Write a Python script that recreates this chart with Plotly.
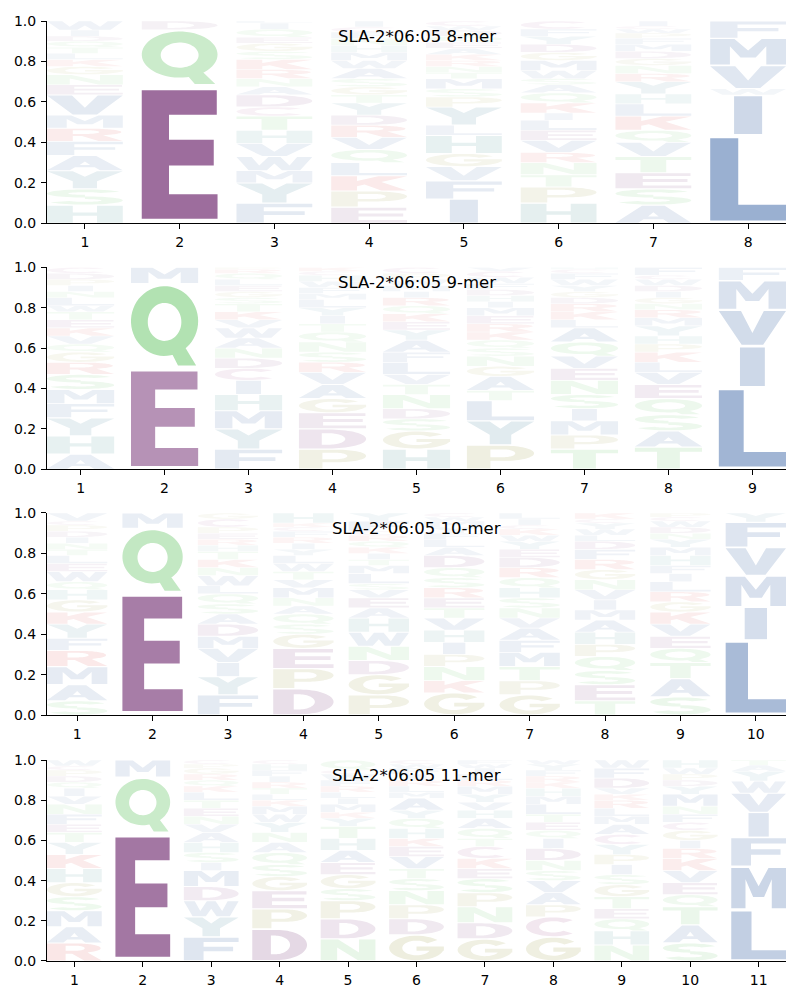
import numpy as np
import plotly.graph_objects as go

# ---------------- data (letters bottom -> top, probabilities) ----------------
titles = ["SLA-2*06:05 8-mer", "SLA-2*06:05 9-mer", "SLA-2*06:05 10-mer", "SLA-2*06:05 11-mer"]

mer8_letters = ["HSYAFRMVENGKLTQDIW", "EQD", "FYMWVHTCDANRKSGEQIL", "EPKLQVRDYTGSAWMHNFCI",
                "IFVGHLYPSMTNRKAEQDWC", "HPTNRVELIKQASWMGDYFC", "ASETVQKLHYRNGDMFPWCI", "LIWVMF"]
mer8_heights = [
    [.09, .08, .09, .075, .07, .065, .065, .10, .05, .05, .04, .035, .03, .03, .03, .025, .03, .045],
    [.68, .277, .043],
    [.10, .10, .06, .07, .065, .065, .07, .045, .06, .04, .04, .045, .05, .04, .04, .03, .04, .03, .01],
    [.08, .08, .075, .065, .065, .06, .06, .05, .06, .04, .04, .04, .05, .04, .04, .035, .035, .03, .025, .03],
    [.12, .09, .07, .065, .09, .05, .09, .05, .04, .05, .03, .03, .03, .03, .03, .03, .03, .03, .02, .025],
    [.10, .08, .06, .06, .05, .06, .05, .05, .035, .05, .05, .04, .03, .04, .05, .04, .04, .04, .035, .04],
    [.09, .08, .08, .08, .07, .06, .07, .06, .05, .06, .04, .04, .035, .035, .035, .03, .025, .02, .015, .025],
    [.435, .20, .03, .115, .135, .085],
]

mer9_letters = ["AHYFMSRGQVKETWLNIPDC", "EQM", "FYMHICDNAWVKTSGELQRP", "PDEGAVRSNQTIYLMFWHCK",
                "HGSDNTVLFAYEKQRIMWPC", "PYLTAGNSQKREMIHDFWCV", "TPMISNEVQALKRDGYWFCH",
                "TASQEVLKPHYMRNGIDWCF", "LIVMF"]
mer9_heights = [
    [.075, .09, .09, .07, .07, .075, .06, .05, .04, .04, .04, .04, .04, .03, .04, .03, .03, .03, .03, .03],
    [.50, .42, .08],
    [.10, .10, .09, .08, .07, .06, .05, .05, .05, .05, .04, .04, .04, .03, .03, .03, .03, .03, .02, .01],
    [.10, .10, .08, .07, .07, .06, .05, .05, .05, .05, .04, .04, .04, .04, .03, .03, .03, .03, .02, .02],
    [.10, .09, .06, .05, .07, .05, .05, .06, .05, .06, .05, .04, .04, .04, .04, .03, .03, .03, .03, .03],
    [.12, .12, .10, .05, .07, .05, .05, .04, .04, .04, .04, .04, .04, .03, .03, .03, .03, .03, .03, .02],
    [.10, .07, .07, .06, .07, .07, .06, .06, .07, .07, .04, .04, .04, .03, .03, .03, .03, .03, .02, .01],
    [.11, .08, .08, .08, .07, .06, .05, .05, .04, .04, .05, .04, .04, .03, .03, .03, .03, .03, .02, .04],
    [.405, .205, .18, .145, .065],
]

mer10_letters = ["SAMRFYKGHQWELTNIDPCV", "EQM", "FYIVMDASQLWNKTHREPCG", "DPEGSQANMVTWLYIRFCKH",
                 "PGDNWHAEVSLMTIKQRCFY", "GKNPIHVTERSQDALFYMWC", "GPTMFAVNSHQRDEYWKCIL",
                 "TESQPHAMIVNGRFDLWYCK", "SATQEVKGRLIFHMYNDWCP", "LIMVFY"]
mer10_heights = [
    [.07, .08, .09, .08, .06, .07, .06, .06, .05, .04, .05, .04, .04, .03, .03, .03, .03, .03, .02, .04],
    [.605, .32, .075],
    [.10, .09, .07, .07, .06, .06, .05, .05, .05, .04, .05, .04, .04, .04, .03, .03, .03, .03, .04, .03],
    [.13, .10, .10, .07, .05, .05, .04, .04, .05, .04, .04, .04, .04, .03, .03, .03, .03, .02, .02, .05],
    [.10, .10, .07, .07, .07, .07, .05, .05, .04, .03, .05, .04, .03, .03, .03, .03, .03, .02, .05, .04],
    [.11, .06, .07, .06, .06, .06, .06, .05, .05, .05, .05, .05, .06, .04, .04, .03, .03, .03, .02, .02],
    [.10, .07, .07, .07, .06, .06, .05, .05, .05, .05, .05, .05, .05, .04, .04, .03, .03, .02, .03, .03],
    [.07, .08, .07, .07, .06, .06, .06, .05, .05, .05, .05, .05, .05, .05, .04, .03, .03, .03, .02, .03],
    [.09, .09, .08, .07, .06, .06, .06, .05, .05, .05, .04, .04, .05, .04, .04, .03, .03, .03, .02, .02],
    [.37, .165, .155, .14, .125, .045],
]

mer11_letters = ["RAMSGHKYTEFNVIQDPCW", "EQM", "FYWDMISHAVNETLKQRGPC", "DPEGSQANYWMKLTRIFHC",
                 "NDPSGEAHTYKMILRFWCQ", "GDPNSTVEKHQYAMLRIFWC", "GDNPSEKCTQAHVYMRLIWF",
                 "GCPAVSNDIQETLMHKRFYW", "NHQETGSIPYCAMLRKVDFW", "SATQEVKRIGCFNMYDPWH", "LMFIVWYAT"]
mer11_heights = [
    [.09, .08, .08, .07, .07, .07, .07, .06, .05, .04, .05, .05, .04, .04, .03, .03, .03, .02, .03],
    [.635, .28, .085],
    [.12, .10, .08, .07, .08, .04, .05, .05, .05, .04, .04, .04, .04, .04, .03, .03, .03, .03, .02, .02],
    [.16, .10, .09, .07, .06, .06, .05, .05, .05, .04, .04, .03, .03, .03, .03, .03, .03, .03, .02],
    [.11, .10, .09, .06, .07, .06, .06, .06, .06, .04, .03, .04, .03, .03, .03, .03, .03, .02, .05],
    [.13, .08, .07, .07, .06, .05, .06, .05, .04, .05, .05, .04, .06, .03, .03, .03, .03, .03, .02, .02],
    [.11, .08, .08, .07, .07, .05, .05, .06, .04, .05, .05, .04, .04, .04, .04, .03, .03, .03, .02, .02],
    [.12, .10, .06, .06, .06, .05, .05, .06, .05, .04, .04, .04, .05, .04, .04, .03, .03, .03, .03, .02],
    [.08, .07, .06, .05, .06, .06, .05, .05, .05, .05, .05, .05, .04, .04, .04, .03, .03, .05, .05, .04],
    [.09, .09, .09, .06, .06, .06, .06, .05, .04, .05, .04, .04, .04, .06, .04, .03, .03, .03, .04],
    [.255, .215, .145, .125, .095, .06, .05, .03, .025],
]

panels = [
    (titles[0], mer8_letters, mer8_heights),
    (titles[1], mer9_letters, mer9_heights),
    (titles[2], mer10_letters, mer10_heights),
    (titles[3], mer11_letters, mer11_heights),
]

# ---------------- colours ----------------
BASE = {}
for ch in "DE":
    BASE[ch] = (137, 80, 137)
for ch in "NQST":
    BASE[ch] = (108, 199, 108)
for ch in "AFILMVW":
    BASE[ch] = (70, 110, 170)
BASE["H"] = (80, 150, 150)
BASE["Y"] = (80, 140, 160)
for ch in "KR":
    BASE[ch] = (220, 80, 80)
for ch in "GP":
    BASE[ch] = (160, 160, 80)
BASE["C"] = (170, 90, 150)


def fill_color(ch, h):
    a = min(1.0, max(0.0, 0.03 + 1.18 * h))
    r, g, b = BASE[ch]
    return "rgb(%d,%d,%d)" % (round(255 - a * (255 - r)), round(255 - a * (255 - g)), round(255 - a * (255 - b)))


# ---------------- glyph outlines in a unit box ----------------
def ell(cx, cy, rx, ry, a0, a1, n=36):
    t = np.radians(np.linspace(a0, a1, n))
    return [(cx + rx * np.cos(v), cy + ry * np.sin(v)) for v in t]


def band(cx, cy, rxo, ryo, rxi, ryi, a0, a1):
    return ell(cx, cy, rxo, ryo, a0, a1) + ell(cx, cy, rxi, ryi, a1, a0)


G = {}
G["A"] = [([(0, 0), (.3, 0), (.37, .2), (.63, .2), (.7, 0), (1, 0), (.65, 1), (.35, 1)], False),
          ([(.43, .36), (.57, .36), (.5, .62)], True)]
G["C"] = [(band(.5, .5, .5, .5, .26, .3, 45, 315), False)]
G["D"] = [([(0, 0), (.45, 0)] + ell(.45, .5, .55, .5, -90, 90) + [(0, 1)], False),
          ([(.34, .19), (.42, .19)] + ell(.42, .5, .27, .31, -90, 90) + [(.34, .81)], True)]
G["E"] = [([(0, 0), (1, 0), (1, .19), (.36, .19), (.36, .415), (.95, .415), (.95, .615), (.36, .615),
            (.36, .81), (.99, .81), (.99, 1), (0, 1)], False)]
G["F"] = [([(0, 0), (.36, 0), (.36, .4), (.9, .4), (.9, .6), (.36, .6), (.36, .81), (1, .81), (1, 1), (0, 1)], False)]
G["G"] = [(band(.5, .5, .5, .5, .26, .3, 40, 360), False),
          ([(.5, .38), (1, .38), (1, .56), (.5, .56)], False)]
G["H"] = [([(0, 0), (.34, 0), (.34, .41), (.66, .41), (.66, 0), (1, 0), (1, 1), (.66, 1), (.66, .6),
            (.34, .6), (.34, 1), (0, 1)], False)]
G["I"] = [([(.315, 0), (.685, 0), (.685, 1), (.315, 1)], False)]
G["K"] = [([(0, 0), (.34, 0), (.34, .3), (.44, .41), (.66, 0), (1, 0), (.66, .6), (1, 1), (.62, 1),
            (.34, .66), (.34, 1), (0, 1)], False)]
G["L"] = [([(0, 0), (1, 0), (1, .19), (.37, .19), (.37, 1), (0, 1)], False)]
G["M"] = [([(0, 0), (.26, 0), (.26, .72), (.4, .28), (.6, .28), (.74, .72), (.74, 0), (1, 0), (1, 1),
            (.68, 1), (.5, .55), (.32, 1), (0, 1)], False)]
G["N"] = [([(0, 0), (.3, 0), (.3, .62), (.68, 0), (1, 0), (1, 1), (.7, 1), (.7, .38), (.32, 1), (0, 1)], False)]
G["P"] = [([(0, 0), (.35, 0), (.35, .34), (.58, .34)] + ell(.58, .67, .42, .33, -90, 90) + [(0, 1)], False),
          ([(.35, .5), (.55, .5)] + ell(.55, .67, .17, .17, -90, 90) + [(.35, .84)], True)]
G["Q"] = [(ell(.5, .56, .5, .44, 0, 360, 60), False),
          (ell(.5, .55, .25, .24, 0, 360, 60), True),
          ([(.52, .30), (.70, 0), (.97, 0), (.74, .32)], False)]
G["R"] = [([(0, 0), (.34, 0), (.34, .4), (.46, .4), (.68, 0), (1, 0), (.74, .47)]
           + ell(.55, .72, .43, .28, -45, 90) + [(0, 1)], False),
          ([(.34, .57), (.52, .57)] + ell(.52, .72, .17, .15, -90, 90) + [(.34, .87)], True)]
G["S"] = [(band(.5, .73, .5, .27, .22, .09, 25, 270), False),
          (band(.5, .27, .5, .27, .22, .09, -155, 90), False)]
G["T"] = [([(0, 1), (1, 1), (1, .81), (.67, .81), (.67, 0), (.33, 0), (.33, .81), (0, .81)], False)]
G["V"] = [([(0, 1), (.33, 1), (.5, .35), (.67, 1), (1, 1), (.66, 0), (.34, 0)], False)]
G["W"] = [([(0, 1), (.2, 1), (.3, .35), (.42, 1), (.58, 1), (.7, .35), (.8, 1), (1, 1), (.84, 0), (.6, 0),
            (.5, .5), (.4, 0), (.16, 0)], False)]
G["Y"] = [([(0, 1), (.34, 1), (.5, .68), (.66, 1), (1, 1), (.66, .42), (.66, 0), (.34, 0), (.34, .42)], False)]


def signed_area(p):
    s = 0.0
    for i in range(len(p)):
        x1, y1 = p[i]
        x2, y2 = p[(i + 1) % len(p)]
        s += x1 * y2 - x2 * y1
    return s / 2


def glyph_path(ch, xc, y0, h):
    pad = 0.033 * h
    gy0, gh = y0 + pad, h - 2 * pad
    out = []
    for pts, hole in G[ch]:
        a = signed_area(pts)
        if (a < 0) != hole:
            pts = pts[::-1]
        seg = ["%s%.4f,%.4f" % ("M" if i == 0 else "L", xc - 0.4 + 0.8 * u, gy0 + gh * v)
               for i, (u, v) in enumerate(pts)]
        out.append(" ".join(seg) + " Z")
    return " ".join(out)


# ---------------- figure ----------------
domains = [(0.7848, 1.0), (0.5231, 0.738), (0.2617, 0.4766), (0.0, 0.2138)]
fig = go.Figure()
shapes = []
annotations = []
layout = {}
font_family = "DejaVu Sans"

for k, (title, letters, heights) in enumerate(panels, start=1):
    xa = "x" if k == 1 else "x%d" % k
    ya = "y" if k == 1 else "y%d" % k
    n = len(letters)
    fig.add_trace(go.Scatter(x=[None], y=[None], xaxis=xa, yaxis=ya, showlegend=False, hoverinfo="skip"))
    for pos, (col, hs) in enumerate(zip(letters, heights), start=1):
        base = 0.0
        for ch, h in zip(col, hs):
            shapes.append(dict(type="path", path=glyph_path(ch, pos, base, h), xref=xa, yref=ya,
                               fillcolor=fill_color(ch, h), line=dict(width=0), fillrule="nonzero",
                               layer="above"))
            base += h
    layout["xaxis" if k == 1 else "xaxis%d" % k] = dict(
        domain=[0, 1], anchor=ya, range=[0.6, n + 0.4], tickvals=list(range(1, n + 1)),
        ticks="outside", ticklen=5, tickwidth=1, tickcolor="black", showline=True, linecolor="black",
        linewidth=1, showgrid=False, zeroline=False, ticklabelstandoff=1, automargin=False,
        tickfont=dict(family=font_family, size=14, color="black"))
    layout["yaxis" if k == 1 else "yaxis%d" % k] = dict(
        domain=list(domains[k - 1]), anchor=xa, range=[0, 1], tickvals=[0, .2, .4, .6, .8, 1.0],
        ticktext=["0.0", "0.2", "0.4", "0.6", "0.8", "1.0"],
        ticks="outside", ticklen=5, tickwidth=1, tickcolor="black", showline=True, linecolor="black",
        linewidth=1, showgrid=False, zeroline=False, ticklabelstandoff=2, automargin=False,
        tickfont=dict(family=font_family, size=14, color="black"))
    annotations.append(dict(text=title, x=0.5, y=0.925, xref=xa + " domain", yref=ya + " domain",
                            showarrow=False, xanchor="center", yanchor="middle",
                            font=dict(family=font_family, size=16.5, color="black")))

# the page body adds an 8px offset, so the figure is 8px smaller and margins are shifted
fig.update_layout(width=792, height=992, margin=dict(l=39, r=14, t=13, b=39, autoexpand=False),
                  paper_bgcolor="white", plot_bgcolor="white", showlegend=False,
                  shapes=shapes, annotations=annotations, **layout)
fig.write_html("out.html")
